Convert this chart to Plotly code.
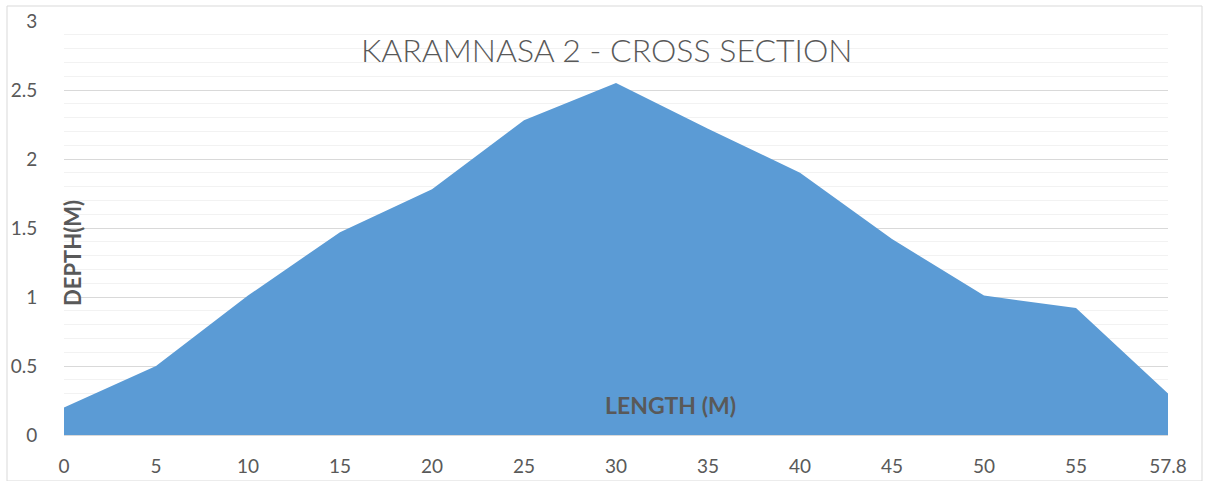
import plotly.graph_objects as go

length_labels = ["0", "5", "10", "15", "20", "25", "30", "35", "40", "45", "50", "55", "57.8"]
depth_values = [0.20, 0.50, 1.01, 1.47, 1.78, 2.28, 2.55, 2.22, 1.90, 1.42, 1.01, 0.92, 0.30]

title_text = "KARAMNASA 2 - CROSS SECTION"
y_title = "DEPTH(M)"
x_title = "LENGTH (M)"

FONT = "Lato"
GRAY = "#595959"

fig = go.Figure()
fig.add_trace(go.Scatter(
    x=length_labels, y=depth_values, fill="tozeroy", mode="lines",
    line=dict(width=0, color="#5b9bd5"), fillcolor="#5b9bd5",
    hoverinfo="x+y", showlegend=False,
))

fig.update_layout(
    width=1205, height=481,
    margin=dict(l=64, r=37, t=21, b=46),
    paper_bgcolor="white", plot_bgcolor="white",
    font=dict(family=FONT, color=GRAY, size=18),
    xaxis=dict(type="category", range=[0, len(length_labels) - 1], automargin=False,
               showgrid=False, showline=True, linecolor="#d9d9d9", linewidth=1,
               ticks="outside", ticklen=14, tickcolor="rgba(0,0,0,0)",
               tickfont=dict(size=19, color=GRAY), zeroline=False),
    yaxis=dict(range=[0, 3], dtick=0.5, showgrid=True, gridcolor="#d9d9d9", gridwidth=1,
               automargin=False,
               minor=dict(dtick=0.1, showgrid=True, gridcolor="#f2f2f2", gridwidth=1),
               ticks="outside", ticklen=22, tickcolor="rgba(0,0,0,0)",
               tickfont=dict(size=19, color=GRAY), zeroline=False, showline=False),
    annotations=[
        dict(text=title_text, xref="paper", yref="paper", x=(606 - 64) / 1104, y=(435 - 50) / 414,
             showarrow=False, font=dict(family=FONT, size=32, color=GRAY, weight=300),
             xanchor="center", yanchor="middle"),
        dict(text="<b>" + y_title + "</b>", xref="paper", yref="paper", x=(72 - 64) / 1104,
             y=(435 - 253) / 414, textangle=-90, showarrow=False,
             font=dict(family=FONT, size=22, color=GRAY), xanchor="center", yanchor="middle"),
        dict(text="<b>" + x_title + "</b>", xref="paper", yref="paper", x=(670 - 64) / 1104,
             y=(435 - 405) / 414, showarrow=False,
             font=dict(family=FONT, size=23, color=GRAY), xanchor="center", yanchor="middle"),
    ],
    shapes=[
        dict(type="rect", xref="paper", yref="paper",
             x0=(7 - 64) / 1104, x1=(1202 - 64) / 1104,
             y0=(435 - 481) / 414, y1=(435 - 6) / 414,
             line=dict(color="#d9d9d9", width=1), fillcolor="rgba(0,0,0,0)", layer="below"),
    ],
)

fig.write_html("out.html", config={"displayModeBar": False},
               post_script="document.body.style.margin='0';document.body.style.overflow='hidden';")
